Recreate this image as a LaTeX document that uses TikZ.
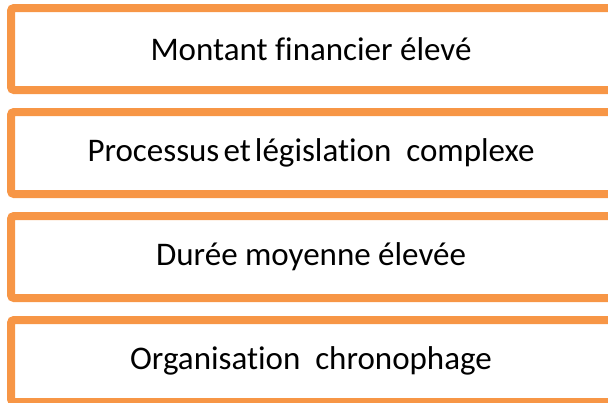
\documentclass[tikz,border=0pt]{standalone}
\usepackage{fontspec}
\setmainfont[Ligatures=CommonOff]{Carlito}
\usetikzlibrary{positioning}
\definecolor{accent}{HTML}{F79646}

\begin{document}
\begin{tikzpicture}[
		block/.style={rectangle, draw=accent, line width=8pt, outer sep=0pt, rounded corners=3pt, minimum width=606pt, minimum height=82pt, text centered, font=\fontsize{33}{40}\selectfont},
		]
		\useasboundingbox (0,0) rectangle (608pt,-402pt);
		\clip (0,0) rectangle (608pt,-402pt);
		
		% Blocks
		\node[block] (montant) at (314pt,-49pt) {\hspace{-6pt}Montant financier élevé};
		\node[block, below=22pt of montant] (processus) {\hspace{-6pt}Processus\hspace{-0.1em} et\hspace{-0.1em} législation\ \ complexe};
		\node[block, below=22pt of processus] (duree) {\hspace{-6pt}Durée moyenne élevée};
		\node[block, below=22pt of duree] (organisation) {\hspace{-6pt}Organisation\ \ chronophage};
		
	\end{tikzpicture}
\end{document}
